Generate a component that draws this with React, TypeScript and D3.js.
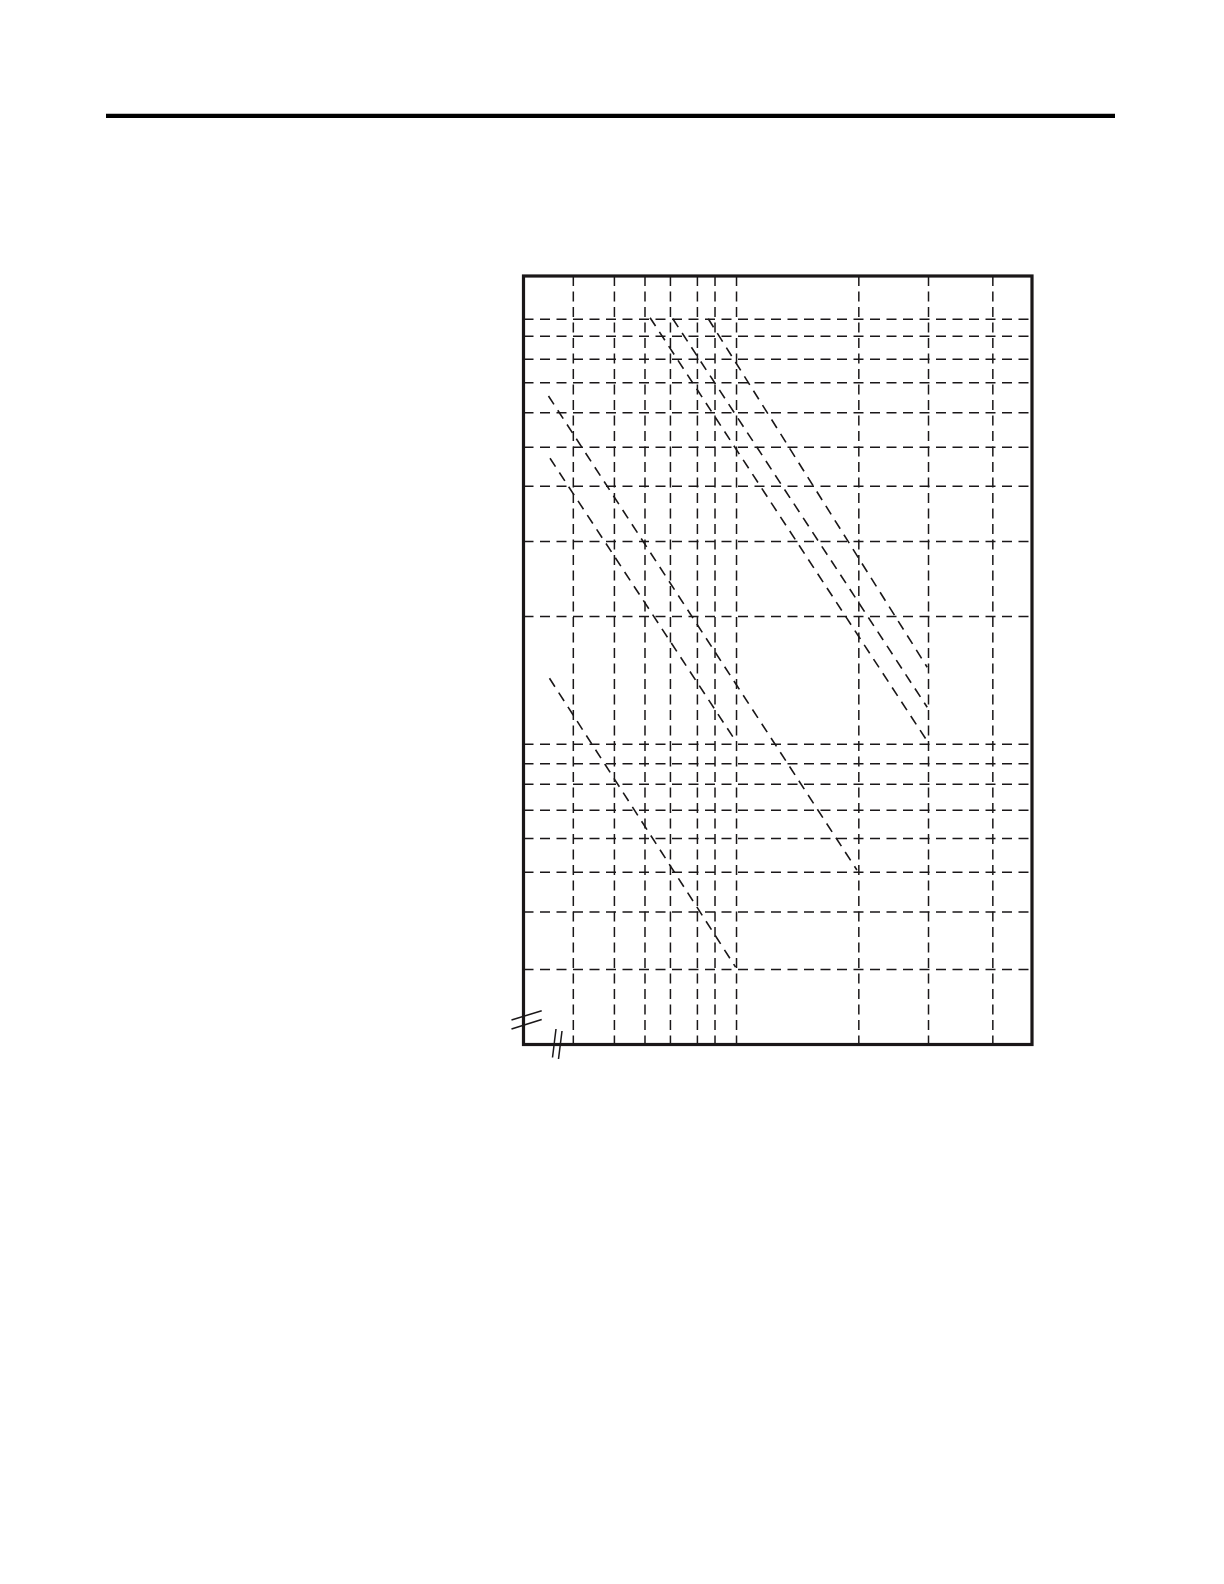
import React from "react";
import * as d3 from "d3";

// Log-log chart (labels absent in the reference)
const xDomain = [3.153, 49.58];
const yDomain = [0.1966, 12.647];

// vertical gridline values (x axis, log)
const xGrid = [4.13, 5.16, 6.09, 6.99, 8.09, 8.9, 10, 19.4, 28.3, 40.1];
// horizontal gridline values (y axis, log)
const yGrid = [0.295, 0.403, 0.5, 0.6, 0.7, 0.805, 0.9, 1, 2, 3, 4.05, 5, 6.03, 7.09, 8.05, 9.13, 10];

// dashed characteristic lines: start and end points
const curveNames = ["L1", "L2", "L3", "A", "B", "C"];
const curveX0 = [3.61, 3.64, 3.63, 6.26, 7.08, 8.58];
const curveY0 = [6.6, 4.71, 1.43, 10.09, 10.03, 10.03];
const curveX1 = [19.2, 9.97, 9.95, 28.2, 28.1, 28.1];
const curveY1 = [0.506, 1.015, 0.299, 1.012, 1.222, 1.518];

const INK = "#1a1718";

export default function App() {
  const x = d3.scaleLog().domain(xDomain).range([523.5, 1032]);
  const y = d3.scaleLog().domain(yDomain).range([1044.5, 276]);
  const [xl, xr] = x.range();
  const [yb, yt] = y.range();
  const line = d3
    .line<[number, number]>()
    .x((d) => x(d[0]))
    .y((d) => y(d[1]));

  return (
    <svg
      width={1224}
      height={1584}
      style={{ position: "absolute", left: 0, top: 0, background: "#fff" }}
    >
      {/* header rule */}
      <line x1={106} x2={1115} y1={115.8} y2={115.8} stroke="#000" strokeWidth={4.3} />

      {/* vertical gridlines */}
      {xGrid.map((v, i) => (
        <line
          key={"xv" + i}
          x1={x(v)}
          x2={x(v)}
          y1={yt}
          y2={yb}
          stroke={INK}
          strokeWidth={1.5}
          strokeDasharray="10 5.5"
        />
      ))}
      {/* horizontal gridlines */}
      {yGrid.map((v, i) => (
        <line
          key={"yh" + i}
          x1={xl}
          x2={xr}
          y1={y(v)}
          y2={y(v)}
          stroke={INK}
          strokeWidth={1.5}
          strokeDasharray="10 6.5"
        />
      ))}

      {/* characteristic lines */}
      {curveNames.map((n, i) => (
        <path
          key={n}
          d={line([
            [curveX0[i], curveY0[i]],
            [curveX1[i], curveY1[i]],
          ]) as string}
          fill="none"
          stroke={INK}
          strokeWidth={1.6}
          strokeDasharray="10 7"
        />
      ))}

      {/* frame */}
      <rect
        x={xl}
        y={yt}
        width={xr - xl}
        height={yb - yt}
        fill="none"
        stroke={INK}
        strokeWidth={3.2}
      />

      {/* axis break marks */}
      <g stroke={INK} strokeWidth={1.5}>
        <line x1={xl - 12} y1={yb - 24.5} x2={xl + 18.2} y2={yb - 33.8} />
        <line x1={xl - 12} y1={yb - 15.5} x2={xl + 18.2} y2={yb - 25} />
        <line x1={xl + 29} y1={yb + 13} x2={xl + 32.5} y2={yb - 15.5} />
        <line x1={xl + 35} y1={yb + 14.5} x2={xl + 38.5} y2={yb - 13.5} />
      </g>
    </svg>
  );
}
